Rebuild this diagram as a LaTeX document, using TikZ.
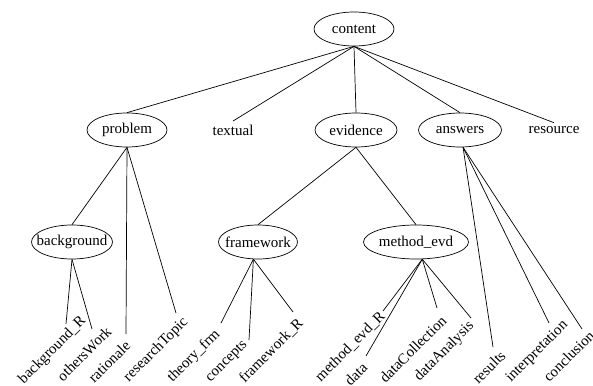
\documentclass[tikz,border=0pt]{standalone}
\usepackage{fontspec}
\setmainfont{Liberation Serif}
\usetikzlibrary{shapes.geometric}
\tikzset{
    ell/.style={draw, ellipse, inner xsep=-12pt, inner ysep=0pt, minimum height=34pt, minimum width=#1},
    ell/.default=80pt,
    leaf/.style={rotate=45, anchor=east, inner sep=0pt}
}
\begin{document}
\begin{tikzpicture}[x=1pt, y=-1pt, line width=0.7pt, font=\rmfamily\fontsize{15}{18}\selectfont]
                \useasboundingbox (0,0) rectangle (593,385);
                % top levels
                \node[ell] (content) at (354,29) {content};
                \node[ell] (problem) at (127,130) {problem};
                \node (textual) at (233,130) {textual};
                \node[ell=82pt] (evidence) at (356,130) {evidence};
                \node[ell=83pt] (answers) at (460,130) {answers};
                \node (resource) at (554,130) {resource};
                \node[ell=81pt] (background) at (72,242) {background};
                \node[ell=79pt] (framework) at (258,242) {framework};
                \node[ell=105pt] (mevd) at (416,242) {method\_evd};
                \foreach \c in {problem,evidence,answers}
                    \draw (content.south) -- (\c.north);
                \foreach \c in {textual,resource}
                    \draw (content.south) -- (\c.north);
                \draw (problem.south) -- (background.north);
                \draw (evidence.south) -- (framework.north);
                \draw (evidence.south) -- (mevd.north);
                % leaves
                \foreach \n/\x/\y/\t in {bgR/84/319/background\_R, others/109/329/othersWork,
                    rationale/128/343/rationale, rtopic/186/320/researchTopic,
                    theory/218/332/theory\_frm, concepts/246/343/concepts, fwR/301/321/framework\_R,
                    mevdR/383/314/method\_evd\_R, data/365/365/data, dcoll/444/318/dataCollection,
                    danal/472/324/dataAnalysis, results/503/353/results,
                    interp/566/323/interpretation, concl/592/333/conclusion}
                    \node[leaf] (\n) at (\x,\y) {\t};
                \foreach \p/\n/\x/\y in {background.south/bgR/66/324, background.south/others/92/329,
                    problem.south/rationale/126/334, problem.south/rtopic/176/313,
                    framework.-105/theory/221/323, framework.-105/concepts/249/340, framework.-105/fwR/293/312,
                    mevd.-70/mevdR/383/311, mevd.-70/data/366/356, mevd.-70/dcoll/437/308, mevd.-70/danal/471/318,
                    answers.-80/results/493/347, answers.-80/interp/549/323, answers.-80/concl/582/329}
                {
                    \coordinate (e-\n) at (\x,\y);
                    \draw (\p) -- (e-\n);
                }
            \end{tikzpicture}
\end{document}
